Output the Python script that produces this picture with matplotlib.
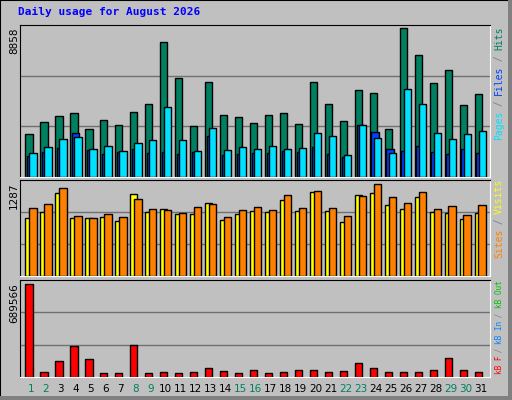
import matplotlib
matplotlib.use("Agg")
import matplotlib.pyplot as plt
from matplotlib.patches import Rectangle

days = list(range(1, 32))
weekend = [1, 2, 8, 9, 15, 16, 22, 23, 29, 30]
hits = [2531,3254,3616,3797,2833,3375,3074,3857,4339,8015,5846,3013,5665,3676,3556,3194,
        3676,3797,3134,5665,4339,3315,5183,5002,2833,8858,7232,5605,6328,4279,4942]
files = [1446,1808,2230,2350,1688,1868,1567,1989,2170,4159,2170,1567,2893,1627,1808,1688,
         1868,1688,1748,2592,2411,1326,3074,2290,1446,5243,4339,2592,2230,2531,2712]
pages = [1266,1507,1748,2592,1627,1386,1507,1688,1446,1507,1386,1507,2411,1326,1386,1446,
         1446,1567,1507,1808,1386,1205,3074,2652,1688,1567,1868,1507,1386,1688,1446]
visits = [951,1004,1233,843,816,870,830,1072,937,924,883,964,1004,830,924,964,
          924,1139,951,1193,951,843,1125,1287,1099,1018,1179,937,978,857,991]
sites = [816,897,1166,816,816,830,776,1152,897,937,870,870,1018,789,870,910,
         897,1058,910,1179,910,762,1139,1166,991,937,1099,897,883,803,883]
kb_f = [689566,37890,121248,227340,136404,30312,30312,234918,30312,37890,30312,37890,68202,45468,30312,53046,
        30312,37890,53046,53046,37890,45468,106092,68202,37890,37890,37890,53046,143982,53046,37890]

W, H = 512, 400
fig = plt.figure(figsize=(W/100, H/100), dpi=100, facecolor="#c0c0c0")
fig.add_artist(Rectangle((0, 0), 1, 1, transform=fig.transFigure, fill=False, ec="black", lw=1.5))
fig.add_artist(Rectangle((0, 0), 1, 4/H, transform=fig.transFigure, fc="#808080", ec="none"))
fig.add_artist(Rectangle((1-4/W, 0), 4/W, 1, transform=fig.transFigure, fc="#808080", ec="none"))

def ax_at(y0, y1):
    ax = fig.add_axes([20/W, 1-y1/H, 470/W, (y1-y0)/H], facecolor="#c0c0c0")
    ax.set_xlim(0.27, 31.64)
    ax.set_xticks([]); ax.set_yticks([])
    for s in ("top", "left"):
        ax.spines[s].set_color("black")
    for s in ("bottom", "right"):
        ax.spines[s].set_color("white")
    return ax

def grid(ax, top):
    for f in (1/3, 2/3):
        ax.axhline(top*f, color="#707070", lw=1, zorder=0)

bk = dict(edgecolor="black", linewidth=1, align="edge")
ax1 = ax_at(25, 177)
top1 = 8858*449/441
ax1.set_ylim(0, top1); grid(ax1, top1)
ax1.bar([d-0.38 for d in days], hits, width=0.49, color="#008060", **bk)
ax1.bar([d-0.27 for d in days], pages, width=0.49, color="#0040ff", **bk)
ax1.bar([d-0.11 for d in days], files, width=0.49, color="#00e0ff", **bk)

ax2 = ax_at(180, 276)
top2 = 1287*287/275
ax2.set_ylim(0, top2); grid(ax2, top2)
ax2.bar([d-0.38 for d in days], sites, width=0.49, color="#ffff00", **bk)
ax2.bar([d-0.13 for d in days], visits, width=0.51, color="#ff8000", **bk)

ax3 = ax_at(280, 377)
top3 = 689566*285/273
ax3.set_ylim(0, top3); grid(ax3, top3)
ax3.bar([d-0.38 for d in days], kb_f, width=0.49, color="#ff0000", **bk)

def px(x, y):
    return x/W, 1-y/H

fig.text(*px(18, 12), "Daily usage for August 2026", color="#0000ff", family="DejaVu Sans Mono",
         weight="bold", fontsize=8, va="center", ha="left")

for y, lab in ((27, "8858"), (182, "1287"), (283, "689566")):
    fig.text(*px(14, y), lab, rotation=90, ha="center", va="top", fontsize=7.5, color="black")

def vlabel(ytop, pieces, cw=5.6, fs=7):
    n = sum(len(p) for p, _ in pieces)
    y = ytop + n*cw
    for p, c in pieces:
        fig.text(*px(499, y), p, rotation=90, ha="center", va="bottom", color=c,
                 family="DejaVu Sans Mono", fontsize=fs)
        y -= len(p)*cw

g = "#808080"
vlabel(28, [("Pages", "#00e0ff"), (" / ", g), ("Files", "#0040ff"), (" / ", g), ("Hits", "#008060")])
vlabel(180, [("Sites", "#ff8000"), (" / ", g), ("Visits", "#ffff00")])
vlabel(282, [("kB F", "#ff0000"), (" / ", g), ("kB In", "#0080ff"), (" / ", g), ("kB Out", "#00c000")],
       cw=4.4, fs=5.6)

for d in days:
    x = 20 + (d - 0.27)/(31.64-0.27)*470
    fig.text(*px(x, 389), str(d), ha="center", va="center", fontsize=7.5,
             color="#008060" if d in weekend else "black")

fig.savefig("out.png", dpi=100, facecolor=fig.get_facecolor())
